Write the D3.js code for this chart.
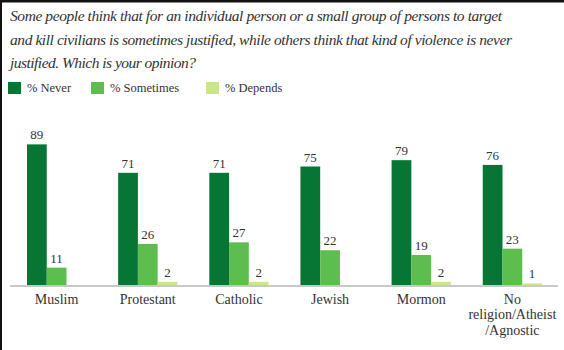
<!DOCTYPE html>
<html>
<head>
<meta charset="utf-8">
<script src="https://cdn.jsdelivr.net/npm/d3@7"></script>
<style>
  body { margin: 0; background: #fff; }
  svg { display: block; }
  text { font-family: "Liberation Serif", "Times New Roman", serif; fill: #333; }
</style>
</head>
<body>
<svg id="chart" width="564" height="350"></svg>
<script>
"use strict";

// data
const categories = ["Muslim", "Protestant", "Catholic", "Jewish", "Mormon", "No religion/Atheist/Agnostic"];
const categoryLines = [["Muslim"], ["Protestant"], ["Catholic"], ["Jewish"], ["Mormon"], ["No", "religion/Atheist", "/Agnostic"]];
const seriesNames = ["% Never", "% Sometimes", "% Depends"];
const never = [89, 71, 71, 75, 79, 76];
const sometimes = [11, 26, 27, 22, 19, 23];
const depends = [null, 2, 2, null, 2, 1];
const titleLines = [
    "Some people think that for an individual person or a small group of persons to target",
    "and kill civilians is sometimes justified, while others think that kind of violence is never",
    "justified. Which is your opinion?"
];
const colorList = ["#077634", "#5dbd4f", "#cbe689"];

// settings
const width = 564, height = 350;
const baseline = 285;
const titleWidths = [492, 502, 186];

let svg = d3.select("#chart");

// frame
svg.append("rect").attr("x", 0).attr("y", 0).attr("width", width).attr("height", 2.5).attr("fill", "#111");
svg.append("rect").attr("x", 0).attr("y", 0).attr("width", 2).attr("height", height).attr("fill", "#111");

// title
svg.append("g")
.attr("class", "title")
.selectAll("text")
.data(titleLines)
.join("text")
.attr("x", 10)
.attr("y", (d, i) => 21 + i * 23.5)
.attr("font-size", 15.5)
.attr("font-style", "italic")
.attr("textLength", (d, i) => titleWidths[i])
.attr("lengthAdjust", "spacing")
.text(d => d);

// legend
let legend = svg.append("g").attr("class", "legend");
const legendX = [8, 91, 206];
seriesNames.forEach((s, i) => {
    let item = legend.append("g").attr("transform", `translate(${legendX[i]}, 82)`);
    item.append("rect").attr("width", 13).attr("height", 12).attr("fill", colorList[i]);
    item.append("text").attr("x", 19).attr("y", 10).attr("font-size", 12.5).text(s);
});

// scales
let scaleX = d3.scaleBand()
.domain(categories)
.range([27, 542])
.paddingInner(0.35);

let scaleSeries = d3.scaleBand()
.domain(seriesNames)
.range([0, scaleX.bandwidth()]);

let scaleY = d3.scaleLinear()
.domain([0, 100])
.range([baseline, baseline - 158]);

let scaleColor = d3.scaleOrdinal()
.domain(seriesNames)
.range(colorList);

// table
let rows = categories.map((c, i) => ({
    category: c,
    values: [never[i], sometimes[i], depends[i]].map((v, j) => ({ key: seriesNames[j], value: v }))
}));

// bars
let groups = svg.append("g")
.attr("class", "bars")
.selectAll("g")
.data(rows)
.join("g")
.attr("transform", d => `translate(${scaleX(d.category)}, 0)`);

groups.selectAll("rect")
.data(d => d.values.filter(v => v.value != null))
.join("rect")
.attr("x", d => scaleSeries(d.key))
.attr("y", d => scaleY(d.value))
.attr("width", scaleSeries.bandwidth())
.attr("height", d => scaleY(0) - scaleY(d.value))
.attr("fill", d => scaleColor(d.key));

groups.selectAll("text.value")
.data(d => d.values.filter(v => v.value != null))
.join("text")
.attr("class", "value")
.attr("x", d => scaleSeries(d.key) + scaleSeries.bandwidth() / 2)
.attr("y", d => scaleY(d.value) - 5)
.attr("text-anchor", "middle")
.attr("font-size", 13)
.text(d => d.value);

// baseline
svg.append("line")
.attr("x1", 10)
.attr("x2", 558)
.attr("y1", baseline + 1)
.attr("y2", baseline + 1)
.attr("stroke", "#c8c8c8")
.attr("stroke-width", 2);

// x labels
svg.append("g")
.attr("class", "x_axis")
.selectAll("text")
.data(categories)
.join("text")
.attr("text-anchor", "middle")
.attr("font-size", 14)
.each(function(d, i) {
    d3.select(this)
    .selectAll("tspan")
    .data(categoryLines[i])
    .join("tspan")
    .attr("x", scaleX(d) + scaleX.bandwidth() / 2)
    .attr("y", (t, k) => 303.5 + k * 15.5)
    .text(t => t);
});
</script>
</body>
</html>
